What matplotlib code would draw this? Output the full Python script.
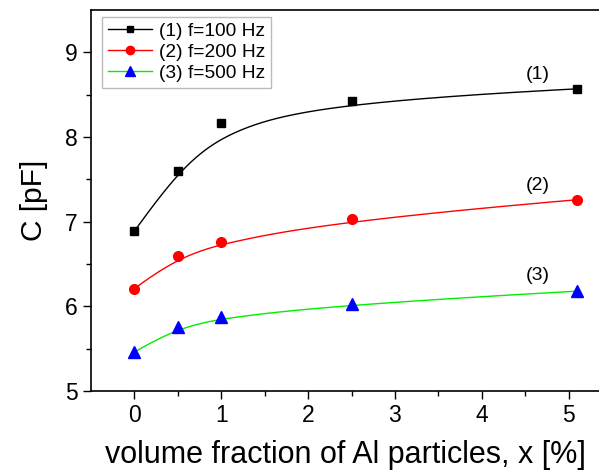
import numpy as np
import matplotlib
matplotlib.use("Agg")
import matplotlib.pyplot as plt
from matplotlib.lines import Line2D

plt.rcParams['font.family'] = ['Liberation Sans', 'DejaVu Sans']

# data
x = [0, 0.5, 1, 2.5, 5.1]
c_100 = [6.89, 7.60, 8.17, 8.43, 8.57]
c_200 = [6.21, 6.59, 6.76, 7.03, 7.26]
c_500 = [5.46, 5.76, 5.87, 6.03, 6.18]
labels = ["(1) f=100 Hz", "(2) f=200 Hz", "(3) f=500 Hz"]
curve_tags = ["(1)", "(2)", "(3)"]


def bspline(xs, ys, deg=3, num=300):
    # clamped B-spline using the data points as control points
    P = np.column_stack([xs, ys]).astype(float)
    n = len(P)
    inner = np.linspace(0, 1, n - deg + 1)[1:-1]
    knots = np.concatenate([np.zeros(deg + 1), inner, np.ones(deg + 1)])
    t = np.linspace(0, 1, num)
    t[-1] = 1 - 1e-12

    def basis(i, p, u):
        if p == 0:
            return ((knots[i] <= u) & (u < knots[i + 1])).astype(float)
        out = np.zeros_like(u)
        d1 = knots[i + p] - knots[i]
        d2 = knots[i + p + 1] - knots[i + 1]
        if d1 > 0:
            out += (u - knots[i]) / d1 * basis(i, p - 1, u)
        if d2 > 0:
            out += (knots[i + p + 1] - u) / d2 * basis(i + 1, p - 1, u)
        return out

    B = np.column_stack([basis(i, deg, t) for i in range(n)])
    C = B @ P
    return C[:, 0], C[:, 1]


fig = plt.figure(figsize=(5.99, 4.72), dpi=100)
ax = fig.add_axes([0.152, 0.1716, 0.848, 0.807])

series = [
    (c_100, 'black', 's', 'black', 6),
    (c_200, 'red', 'o', 'red', 7),
    (c_500, '#00ee00', '^', 'blue', 8),
]
handles = []
for (ys, lc, mk, mc, ms), lab in zip(series, labels):
    cx, cy = bspline(x, ys)
    ax.plot(cx, cy, color=lc, lw=1.0, zorder=2)
    ax.plot(x, ys, ls='none', marker=mk, color=mc, ms=ms, zorder=3)
    handles.append(Line2D([], [], color=lc, lw=1.0, marker=mk, mfc=mc, mec=mc, ms=ms - 1))

tag_y = [8.74, 7.43, 6.36]
for t, yy in zip(curve_tags, tag_y):
    ax.text(4.64, yy, t, ha='center', va='center', fontsize=14)

ax.set_xlim(-0.5, 5.35)
ax.set_ylim(5, 9.5)
ax.set_xticks([0, 1, 2, 3, 4, 5])
ax.set_xticks(np.arange(0.5, 5.5, 1.0), minor=True)
ax.set_yticks([5, 6, 7, 8, 9])
ax.set_yticks(np.arange(5.5, 9.5, 1.0), minor=True)
ax.tick_params(which='major', direction='out', length=6, width=1, labelsize=16.5)
ax.tick_params(which='minor', direction='out', length=3.5, width=1)
ax.spines['right'].set_visible(False)
for s in ['left', 'bottom', 'top']:
    ax.spines[s].set_linewidth(1.2)

ax.set_xlabel("volume fraction of Al particles, x [%]", fontsize=22, labelpad=9)
ax.set_ylabel("C [pF]", fontsize=21.5, labelpad=12)

leg = ax.legend(handles, labels, loc='upper left', fontsize=13.8, frameon=True,
                fancybox=False, edgecolor='#aaaaaa', handlelength=2.3,
                borderpad=0.3, labelspacing=0.18, handletextpad=0.35,
                borderaxespad=0.0, bbox_to_anchor=(0.022, 0.982))
leg.get_frame().set_linewidth(1.0)

fig.savefig("out.png", dpi=100)
